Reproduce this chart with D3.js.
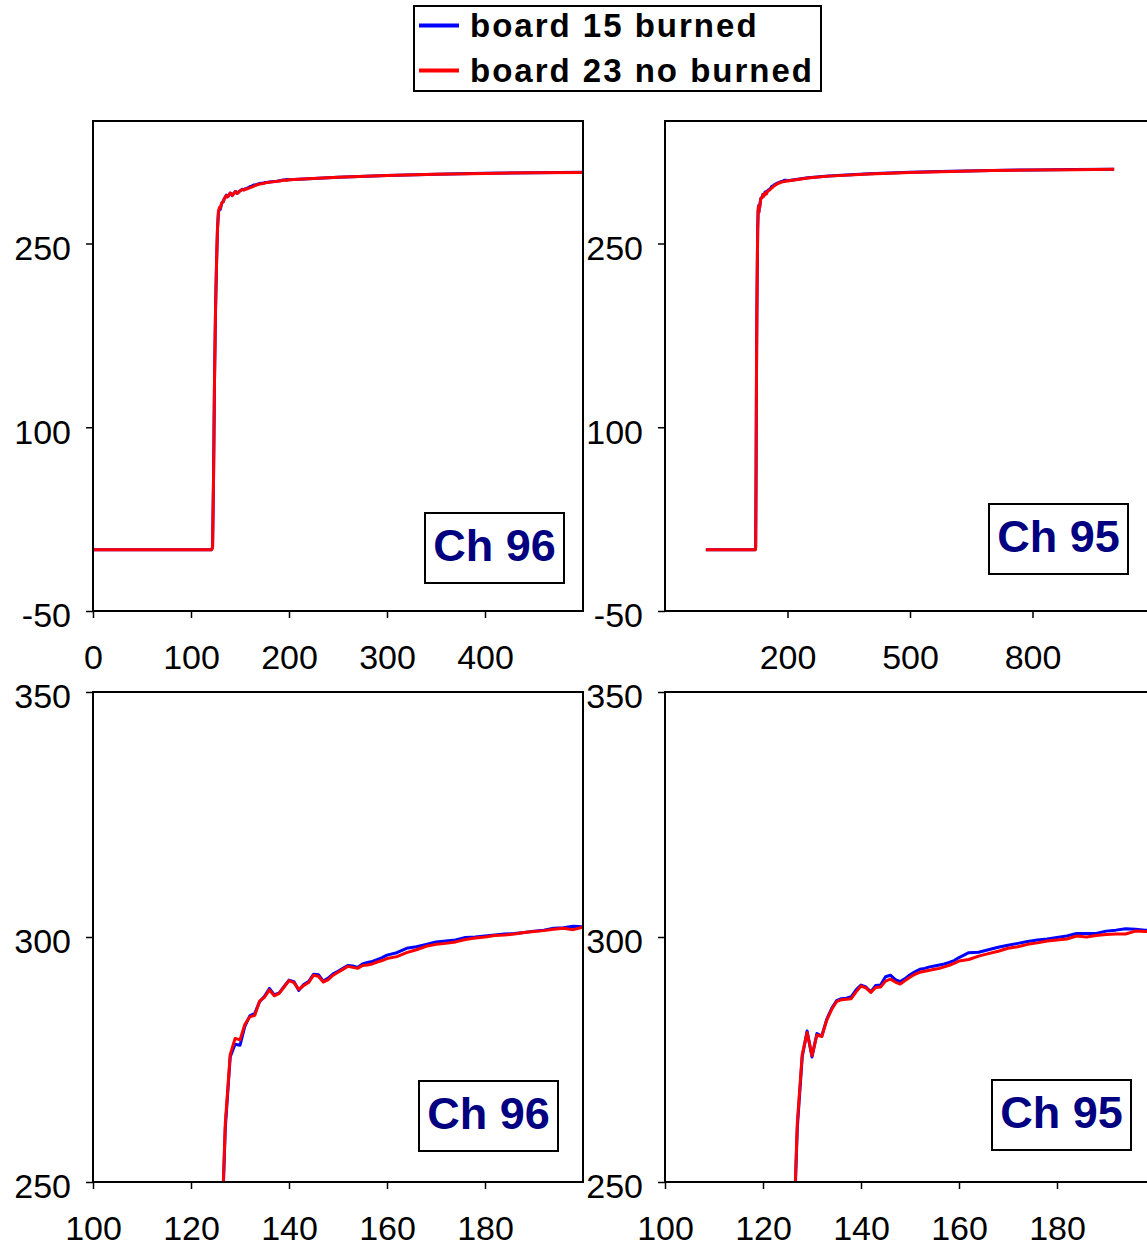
<!DOCTYPE html>
<html>
<head>
<meta charset="utf-8">
<script src="https://cdn.jsdelivr.net/npm/d3@7/dist/d3.min.js"></script>
<style>
    body { margin: 0; background: #fff; }
    svg { display: block; font-family: Arial, "Liberation Sans", sans-serif; }
    .tickLabel text { font-size: 34px; fill: #000; }
    .tickLabel line { stroke: #000; stroke-width: 1.5px; }
    .legendText { font-size: 33px; font-weight: bold; letter-spacing: 2px; }
    .chLabel { font-size: 45px; font-weight: bold; fill: #000080; }
</style>
</head>
<body>
<script>
(function(){

    //channel 96 samples (time, then one value list per board)
    var ch96Time = [0,121,122,123,124,125,126,127,128,129,130,131,132,133,134,135,136,137,138,139,140,
        141,142,143,144,145,146,147,148,149,150,151,152,153,154,155,156,157,158,159,160,
        162,164,166,168,170,172,174,176,178,180,182,184,186,188,190,192,194,196,198,200,
        250,300,350,400,450,500];
    var ch96Burned = [0,0,2,58,138,194,231,261,275.5,278.1,277.9,281.8,283.9,284.4,286.8,287.9,289.5,288.2,288.6,289.9,291.2,
        290.9,289.1,290.3,290.9,292.4,292.3,291,291.6,292.5,293,293.6,294.2,294.1,293.8,294.5,294.8,295,295.4,295.8,296.3,
        296.8,297.7,298,298.5,299,299.2,299.4,299.9,300,300.2,300.4,300.6,300.7,300.9,301.2,301.4,301.8,301.9,302.2,302.1,
        304.1,305.6,306.6,307.3,307.8,308.1];
    var ch96NoBurned = [0,0,2,60,140,195,232,262,276,279.3,279,282.2,283.7,284,286.9,287.7,289.2,288,288.5,289.8,291.1,
        290.7,289.3,290.1,290.7,292.2,292,290.8,291.3,292.2,292.8,293.4,294,293.8,293.6,294.2,294.3,294.5,294.9,295.2,295.6,
        296,296.8,297.4,298.1,298.5,298.7,299,299.5,299.8,300,300.3,300.4,300.6,300.9,301.1,301.3,301.6,301.8,301.5,302,
        304,305.5,306.5,307.2,307.8,308];

    //channel 95 samples
    var ch95Time = [0,121,122,123,124,125,126,127,128,129,130,131,132,133,134,135,136,137,138,139,140,
        141,142,143,144,145,146,147,148,149,150,151,152,153,154,155,156,157,158,159,160,
        162,164,166,168,170,172,174,176,178,180,182,184,186,188,190,192,194,196,198,200,
        250,300,400,500,600,700,800,900,1000];
    var ch95Burned = [0,0,2,58,138,194,231,261,275.5,280.8,275.5,280.3,279.8,283.2,285.4,287,287.4,287.5,287.8,289.2,290.2,
        289.8,288.8,290.1,290.2,291.9,292.2,291.3,290.9,291.5,292.3,292.9,293.4,293.6,293.9,294.1,294.3,294.5,294.8,295.2,295.8,
        296.8,296.9,297.4,297.9,298.3,298.7,299.1,299.4,299.6,299.9,300.2,300.7,300.7,300.7,301.2,301.4,301.7,301.6,301.4,301.3,
        303.6,305.1,306.9,308.1,308.9,309.6,310.1,310.4,310.7];
    var ch95NoBurned = [0,0,2,60,140,195,232,262,276,280.5,275.8,280,279.7,283,285.2,286.8,287.2,287.3,287.4,288.8,290,
        289.6,288.7,289.7,289.8,291,291.4,290.8,290.4,291.1,291.8,292.4,292.8,293,293.2,293.4,293.6,293.9,294.2,294.6,295.1,
        295.4,296.1,296.6,297.1,297.7,298,298.5,298.8,299.2,299.4,299.6,300.2,300,300.3,300.5,300.6,300.6,301.2,301.1,301.1,
        303.5,305,306.8,308,308.8,309.5,310,310.3,310.6];

    //tick labels
    var overviewYTicks = [-50, 100, 250];
    var zoomYTicks = [250, 300, 350];
    var ch96XTicks = [0, 100, 200, 300, 400];
    var ch95XTicks = [200, 500, 800];
    var zoomXTicks = [100, 120, 140, 160, 180];

    //legend entries
    var seriesNames = ["board 15 burned", "board 23 no burned"];
    var seriesColors = ["#0000ff", "#ff0000"];

    var width = 1147,
        height = 1249,
        plotW = 490,
        plotH = 490;

    window.onload = setChart();

    function setChart(){
        var svg = d3.select("body")
            .append("svg")
            .attr("width", width)
            .attr("height", height);

        //panel layout: one entry per small chart
        var panels = [
            { id: "p1", left: 93, top: 121, xDomain: [0, 500], yDomain: [-50, 350],
              xTicks: ch96XTicks, yTicks: overviewYTicks, label: "Ch 96", box: [332, 392],
              time: ch96Time, series: [ch96Burned, ch96NoBurned] },
            { id: "p2", left: 665, top: 121, xDomain: [-100, 1100], yDomain: [-50, 350],
              xTicks: ch95XTicks, yTicks: overviewYTicks, label: "Ch 95", box: [324, 383],
              time: ch95Time, series: [ch95Burned, ch95NoBurned] },
            { id: "p3", left: 93, top: 692, xDomain: [100, 200], yDomain: [250, 350],
              xTicks: zoomXTicks, yTicks: zoomYTicks, label: "Ch 96", box: [326, 389],
              time: ch96Time, series: [ch96Burned, ch96NoBurned] },
            { id: "p4", left: 665, top: 692, xDomain: [100, 200], yDomain: [250, 350],
              xTicks: zoomXTicks, yTicks: zoomYTicks, label: "Ch 95", box: [327, 388],
              time: ch95Time, series: [ch95Burned, ch95NoBurned] }
        ];

        panels.forEach(function(p){
            drawPanel(svg, p);
        });

        drawLegend(svg);
    };

    //plain hyphen for negatives, like the original sheet
    function plainNumber(d){
        return String(d);
    };

    function drawPanel(svg, p){
        var x = d3.scaleLinear()
            .domain(p.xDomain)
            .range([p.left, p.left + plotW]);
        var y = d3.scaleLinear()
            .domain(p.yDomain)
            .range([p.top + plotH, p.top]);

        //clip lines to the plot area
        svg.append("clipPath")
            .attr("id", "clip_" + p.id)
            .append("rect")
            .attr("x", p.left)
            .attr("y", p.top)
            .attr("width", plotW)
            .attr("height", plotH);

        var line = d3.line()
            .x(function(d){ return x(d[0]); })
            .y(function(d){ return y(d[1]); });

        var g = svg.append("g")
            .attr("clip-path", "url(#clip_" + p.id + ")");

        p.series.forEach(function(values, i){
            g.append("path")
                .datum(d3.zip(p.time, values))
                .attr("fill", "none")
                .attr("stroke", seriesColors[i])
                .attr("stroke-width", 3)
                .attr("stroke-linejoin", "round")
                .attr("d", line);
        });

        //y axis
        var yAxis = svg.append("g")
            .attr("class", "tickLabel")
            .attr("transform", "translate(" + p.left + ",0)")
            .call(d3.axisLeft(y).tickValues(p.yTicks).tickFormat(plainNumber).tickSize(7).tickPadding(15));
        yAxis.select(".domain").remove();
        yAxis.selectAll("text").attr("dy", "0.47em");

        //x axis
        var xAxis = svg.append("g")
            .attr("class", "tickLabel")
            .attr("transform", "translate(0," + (p.top + plotH) + ")")
            .call(d3.axisBottom(x).tickValues(p.xTicks).tickFormat(plainNumber).tickSize(7).tickPadding(27));
        xAxis.select(".domain").remove();

        //plot frame
        svg.append("rect")
            .attr("x", p.left)
            .attr("y", p.top)
            .attr("width", plotW)
            .attr("height", plotH)
            .attr("fill", "none")
            .attr("stroke", "#000")
            .attr("stroke-width", 2);

        //channel label box
        var bx = p.left + p.box[0],
            by = p.top + p.box[1];
        svg.append("rect")
            .attr("x", bx)
            .attr("y", by)
            .attr("width", 139)
            .attr("height", 70)
            .attr("fill", "#fff")
            .attr("stroke", "#000")
            .attr("stroke-width", 2);
        svg.append("text")
            .attr("class", "chLabel")
            .attr("x", bx + 69.5)
            .attr("y", by + 48)
            .attr("text-anchor", "middle")
            .text(p.label);
    };

    function drawLegend(svg){
        var legend = svg.append("g")
            .attr("class", "legend");

        legend.append("rect")
            .attr("x", 414)
            .attr("y", 6)
            .attr("width", 407)
            .attr("height", 85)
            .attr("fill", "#fff")
            .attr("stroke", "#000")
            .attr("stroke-width", 2);

        var rows = legend.selectAll(".legendRow")
            .data(seriesNames)
            .enter()
            .append("g")
            .attr("class", "legendRow")
            .attr("transform", function(d, i){
                return "translate(0," + (i * 45) + ")";
            });

        rows.append("line")
            .attr("x1", 419)
            .attr("x2", 459)
            .attr("y1", 25.5)
            .attr("y2", 25.5)
            .attr("stroke", function(d, i){ return seriesColors[i]; })
            .attr("stroke-width", 4);

        rows.append("text")
            .attr("class", "legendText")
            .attr("x", 470)
            .attr("y", 37)
            .text(function(d){ return d; });
    };

})();
</script>
</body>
</html>
